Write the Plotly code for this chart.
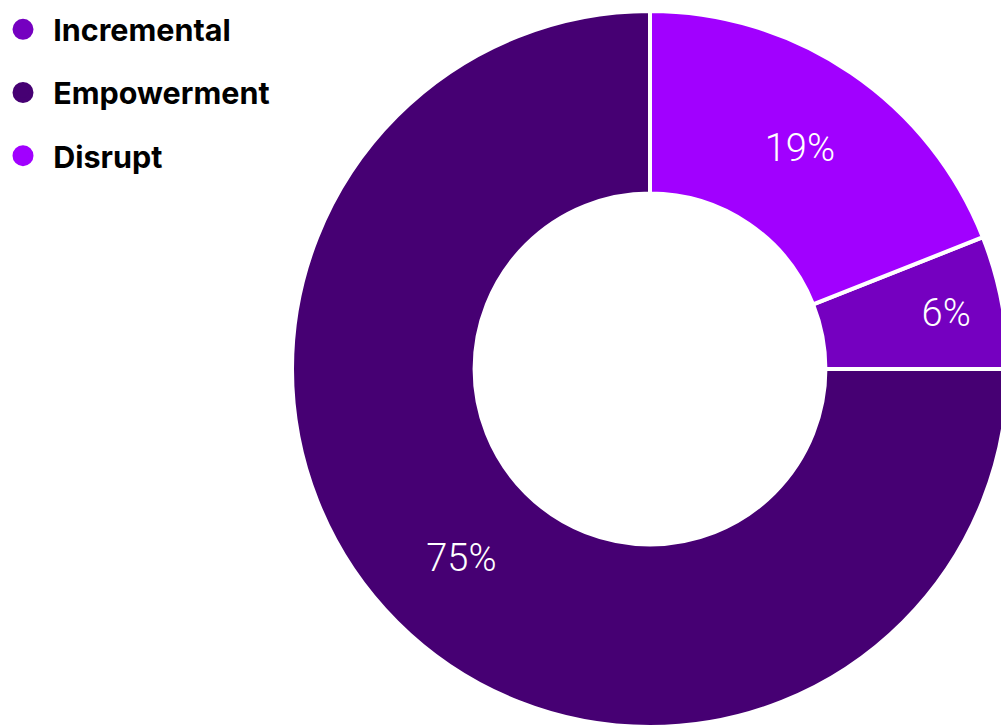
import plotly.graph_objects as go

# Data
slice_labels = ["Incremental", "Empowerment", "Disrupt"]
slice_values = [6, 75, 19]
slice_colors = ["#7500C0", "#460073", "#A100FF"]

FIG_W, FIG_H = 1010, 731

fig = go.Figure()

fig.add_trace(go.Pie(
    labels=slice_labels,
    values=slice_values,
    hole=0.49,
    sort=False,
    direction="clockwise",
    rotation=360 * slice_values[2] / sum(slice_values),
    marker=dict(colors=slice_colors, line=dict(color="white", width=4)),
    textinfo="percent",
    texttemplate="%{percent:.0%}",
    textposition="inside",
    insidetextorientation="horizontal",
    textfont=dict(family="Roboto", size=38, color="white", weight=300),
    showlegend=False,
    domain=dict(x=[292 / FIG_W, 1008 / FIG_W], y=[(FIG_H - 727) / FIG_H, (FIG_H - 11) / FIG_H]),
    hoverinfo="label+percent",
))

for lab, col in zip(slice_labels, slice_colors):
    fig.add_trace(go.Scatter(
        x=[None], y=[None], mode="markers", name="\u2004" + lab,
        marker=dict(symbol="circle", size=16, color=col, line=dict(color=col, width=5)),
        legendgroup=lab, showlegend=True,
    ))

fig.update_layout(
    width=FIG_W, height=FIG_H, autosize=False,
    margin=dict(l=0, r=0, t=0, b=0),
    paper_bgcolor="white",
    plot_bgcolor="white",
    xaxis=dict(visible=False),
    yaxis=dict(visible=False),
    legend=dict(
        x=3 / FIG_W, y=1 - 3 / FIG_H, xanchor="left", yanchor="top",
        font=dict(family="Inter", size=30.5, color="#000000", weight=700),
        traceorder="grouped",
        tracegroupgap=20.5,
        itemsizing="trace",
        bgcolor="rgba(0,0,0,0)",
    ),
)

fig.write_html(
    "out.html",
    config={"displayModeBar": False},
    post_script="document.body.style.margin='0';document.body.style.overflow='hidden';",
)
